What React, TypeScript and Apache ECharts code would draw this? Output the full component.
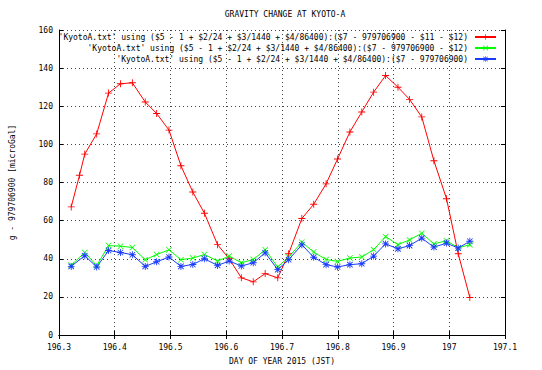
import React, { useEffect, useRef } from "react";
import * as echarts from "echarts";

// Day-of-year (JST) sample times shared by the green and blue series
const dayX = [
  196.3219, 196.3462, 196.3676, 196.3889, 196.4102, 196.4316, 196.4547, 196.4751,
  196.4973, 196.5187, 196.54, 196.5608, 196.5844, 196.6052, 196.6271, 196.6484,
  196.6698, 196.6924, 196.7119, 196.7356, 196.7569, 196.7791, 196.7996, 196.8218,
  196.8431, 196.8644, 196.8858, 196.908, 196.9288, 196.9507, 196.9725, 196.9951,
  197.0161, 197.0369,
];

// Red series times (one extra early sample)
const redX = [
  196.3219, 196.3368, 196.3462, 196.3676, 196.3889, 196.4102, 196.4316, 196.4547,
  196.4751, 196.4973, 196.5187, 196.54, 196.5608, 196.5844, 196.6052, 196.6271,
  196.6484, 196.6698, 196.6924, 196.7119, 196.7356, 196.7569, 196.7791, 196.7996,
  196.8218, 196.8431, 196.8644, 196.8858, 196.908, 196.9288, 196.9507, 196.9725,
  196.9951, 197.0161, 197.0369,
];

const redValues = [
  67.2, 83.8, 94.9, 105.5, 126.9, 131.8, 132.3, 122.2, 116.2, 107.5, 88.8, 75.0,
  63.9, 47.4, 40.0, 30.0, 27.9, 32.2, 30.0, 42.6, 61.1, 68.6, 79.3, 92.3, 106.5,
  117.0, 127.4, 136.1, 130.0, 123.6, 114.4, 91.4, 71.5, 42.6, 19.7,
];

const greenValues = [
  36.6, 43.3, 36.4, 46.9, 46.6, 45.9, 39.5, 42.2, 44.7, 39.5, 40.4, 42.2, 38.8,
  41.4, 37.9, 39.6, 44.7, 35.7, 40.9, 48.7, 43.5, 39.6, 38.6, 40.4, 40.9, 44.8,
  51.6, 47.4, 49.9, 53.4, 47.8, 49.5, 45.7, 47.4,
];

const blueValues = [
  36.0, 41.6, 35.7, 44.3, 43.3, 42.1, 36.0, 38.4, 40.9, 36.0, 37.0, 40.0, 36.5,
  38.8, 36.2, 37.9, 43.1, 34.3, 39.5, 47.3, 40.8, 36.9, 35.7, 36.9, 37.4, 41.4,
  47.8, 45.2, 46.9, 50.8, 46.1, 48.2, 45.6, 49.2,
];

const seriesNames = [
  "'KyotoA.txt' using ($5 - 1 + $2/24 + $3/1440 + $4/86400):($7 - 979706900 - $11 - $12)",
  "'KyotoA.txt' using ($5 - 1 + $2/24 + $3/1440 + $4/86400):($7 - 979706900 - $12)",
  "'KyotoA.txt' using ($5 - 1 + $2/24 + $3/1440 + $4/86400):($7 - 979706900)",
];

const titleText = "GRAVITY CHANGE AT KYOTO-A";
const xName = "DAY OF YEAR 2015 (JST)";
const yName = "g - 979706900 [microGal]";

const FONT = "'DejaVu Sans Mono', 'Liberation Mono', monospace";

const PLUS = "path://M3.5,0h1v8h-1z M0,3.5h8v1h-8z";
const CROSS = "path://M0,0.7L0.7,0L8,7.3L7.3,8Z M7.3,0L8,0.7L0.7,8L0,7.3Z";
const STAR =
  "path://M3.5,0h1v8h-1z M0,3.5h8v1h-8z M0.5,1.2L1.2,0.5L7.5,6.8L6.8,7.5Z M6.8,0.5L7.5,1.2L1.2,7.5L0.5,6.8Z";

export default function App() {
  const ref = useRef<HTMLDivElement>(null);

  useEffect(() => {
    if (!ref.current) return;
    const chart = echarts.init(ref.current, undefined, { renderer: "svg" });

    const pairs = (xs: number[], ys: number[]) => ys.map((y, i) => [xs[i], y]);

    const textStyle = { fontFamily: FONT, fontSize: 8, color: "#000" };

    const gridLine = { show: true, lineStyle: { color: "#444", width: 1, type: [1, 3] as any } };

    chart.setOption({
      animation: false,
      backgroundColor: "#fff",
      title: {
        text: titleText,
        left: 280,
        top: 5,
        textAlign: "center",
        textStyle: { ...textStyle, fontWeight: "normal" },
      },
      legend: {
        orient: "vertical",
        right: 40,
        top: 28,
        align: "right",
        itemWidth: 21,
        itemHeight: 7,
        itemGap: 3,
        textStyle: { ...textStyle, padding: [0, 2, 0, 0] },
        data: seriesNames,
      },
      grid: { left: 54, right: 37, top: 30, bottom: 33 },
      xAxis: [
        {
          type: "value",
          min: 196.3,
          max: 197.1,
          interval: 0.1,
          name: xName,
          nameLocation: "middle",
          nameGap: 22,
          nameTextStyle: textStyle,
          axisLine: { show: true, lineStyle: { color: "#000", width: 1 } },
          axisTick: { show: true, inside: true, length: 4, lineStyle: { color: "#000" } },
          axisLabel: {
            ...textStyle,
            margin: 8,
            formatter: (v: number) => String(parseFloat(v.toFixed(1))),
          },
          splitLine: gridLine,
        },
        {
          type: "value",
          position: "top",
          min: 196.3,
          max: 197.1,
          interval: 0.1,
          axisLine: { show: true, lineStyle: { color: "#000", width: 1 } },
          axisTick: { show: true, inside: true, length: 4, lineStyle: { color: "#000" } },
          axisLabel: { show: false },
          splitLine: { show: false },
        },
      ],
      yAxis: [
        {
          type: "value",
          min: 0,
          max: 160,
          interval: 20,
          name: yName,
          nameLocation: "middle",
          nameGap: 43,
          nameTextStyle: textStyle,
          axisLine: { show: true, lineStyle: { color: "#000", width: 1 } },
          axisTick: { show: true, inside: true, length: 4, lineStyle: { color: "#000" } },
          axisLabel: { ...textStyle, margin: 6 },
          splitLine: gridLine,
        },
        {
          type: "value",
          position: "right",
          min: 0,
          max: 160,
          interval: 20,
          axisLine: { show: true, lineStyle: { color: "#000", width: 1 } },
          axisTick: { show: true, inside: true, length: 4, lineStyle: { color: "#000" } },
          axisLabel: { show: false },
          splitLine: { show: false },
        },
      ],
      series: [
        {
          name: seriesNames[0],
          type: "line",
          xAxisIndex: 0,
          yAxisIndex: 0,
          data: pairs(redX, redValues),
          symbol: PLUS,
          symbolSize: 7,
          itemStyle: { color: "#ff0000", borderWidth: 0 },
          lineStyle: { color: "#ff0000", width: 1 },
        },
        {
          name: seriesNames[1],
          type: "line",
          xAxisIndex: 0,
          yAxisIndex: 0,
          data: pairs(dayX, greenValues),
          symbol: CROSS,
          symbolSize: 6,
          itemStyle: { color: "#00ff00", borderWidth: 0 },
          lineStyle: { color: "#00ff00", width: 1 },
        },
        {
          name: seriesNames[2],
          type: "line",
          xAxisIndex: 0,
          yAxisIndex: 0,
          data: pairs(dayX, blueValues),
          symbol: STAR,
          symbolSize: 7,
          itemStyle: { color: "#1a3cff", borderWidth: 0 },
          lineStyle: { color: "#1a3cff", width: 1 },
        },
      ],
    });

    return () => chart.dispose();
  }, []);

  return <div ref={ref} style={{ width: 542, height: 370, position: "absolute", left: 0, top: 0 }} />;
}
